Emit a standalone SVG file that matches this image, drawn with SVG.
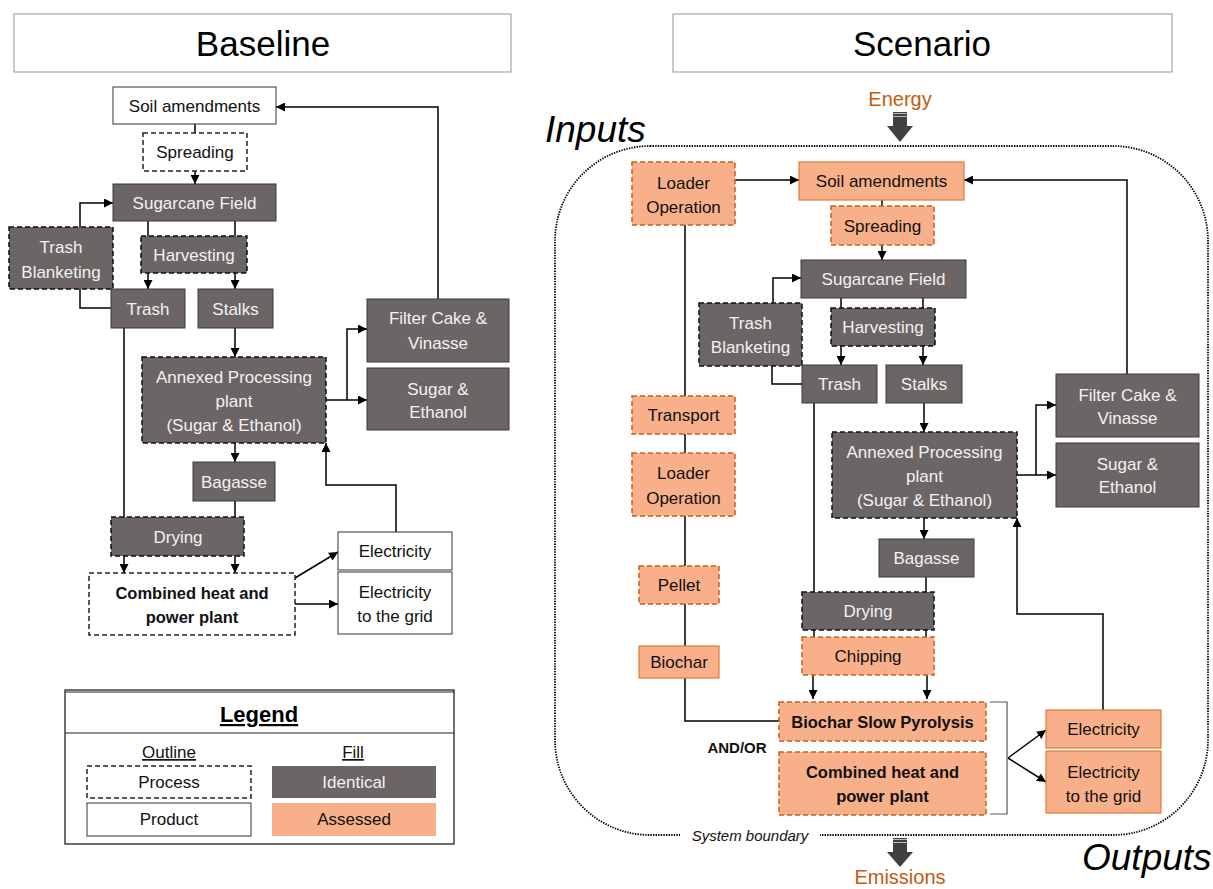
<svg xmlns="http://www.w3.org/2000/svg" width="1213" height="889" viewBox="0 0 1213 889">
<defs>
<marker id="ah" viewBox="0 0 10 10" refX="10" refY="5" markerWidth="9" markerHeight="9" markerUnits="userSpaceOnUse" orient="auto"><path d="M0,0 L10,5 L0,10 z" fill="#000"/></marker>
<style>
text{font-family:"Liberation Sans",Arial,sans-serif;font-size:17px;text-anchor:middle}
.g{fill:#6b6565;stroke:#3a3a3a;stroke-width:1}
.gd{fill:#6b6565;stroke:#111;stroke-width:1.5;stroke-dasharray:5 3}
.w{fill:#fff;stroke:#333;stroke-width:1}
.wd{fill:#fff;stroke:#222;stroke-width:1.5;stroke-dasharray:5 3}
.o{fill:#f8b08a;stroke:#e07b39;stroke-width:1.2}
.od{fill:#f8b08a;stroke:#c5601c;stroke-width:1.5;stroke-dasharray:5 3}
.tw{fill:#f2f2f2}
.tk{fill:#111}
.b{font-weight:bold;font-size:16.5px}
.c{fill:none;stroke:#000;stroke-width:1.5}
.ca{fill:none;stroke:#000;stroke-width:1.5;marker-end:url(#ah)}
.title{font-size:35px;fill:#000}
.big{font-size:37px;font-style:italic;text-anchor:start;fill:#000}
.or{fill:#c55a11;font-size:20px}
</style>
</defs>
<rect width="1213" height="889" fill="#fff"/>

<g id="titles">
<rect x="14" y="14" width="497" height="58" fill="#fff" stroke="#a6a6a6" stroke-width="1.2"/>
<text class="title" x="263" y="56">Baseline</text>
<rect x="673" y="14" width="499" height="58" fill="#fff" stroke="#a6a6a6" stroke-width="1.2"/>
<text class="title" x="922" y="56">Scenario</text>
</g>

<g id="boundary">
<rect x="555" y="146" width="653" height="689" rx="95" ry="95" fill="none" stroke="#000" stroke-width="1.8" stroke-dasharray="1.4 1.2"/>
<rect x="680" y="826" width="140" height="20" fill="#fff"/>
<text x="750" y="841" style="font-style:italic;font-size:15px;fill:#111">System boundary</text>
</g>

<g id="energy">
<text class="or" x="900" y="106">Energy</text>
<path d="M893,112 H907 V126 H913 L900,142 L887,126 H893 Z" fill="#404040"/>
<path d="M893,113.5 H907 M893,116.5 H907" stroke="#bbb" stroke-width="1"/>
</g>
<g id="emissions">
<path d="M893,838 H907 V852 H913 L900,867 L887,852 H893 Z" fill="#404040"/>
<path d="M893,839.5 H907 M893,842.5 H907" stroke="#bbb" stroke-width="1"/>
<text class="or" x="900" y="884">Emissions</text>
</g>
<text class="big" x="545" y="142">Inputs</text>
<text class="big" x="1082" y="870">Outputs</text>

<g id="connectors">
<path class="c" d="M195,124 V133"/>
<path class="ca" d="M195,171 V184"/>
<path class="ca" d="M148,221 V289"/>
<path class="ca" d="M235,221 V289"/>
<path class="c" d="M111,308 H80 V289"/>
<path class="ca" d="M80,227 V203 H113"/>
<path class="ca" d="M235,328 V357"/>
<path class="ca" d="M438,299 V107 H276"/>
<path class="ca" d="M326,400 H367"/>
<path class="ca" d="M347,400 V329 H367"/>
<path class="ca" d="M124,328 V573"/>
<path class="ca" d="M235,443 V462"/>
<path class="ca" d="M235,501 V573"/>
<path class="ca" d="M295,578 L338,552"/>
<path class="ca" d="M295,604 H338"/>
<path class="ca" d="M396,532 V485 H326 V443"/>

<path class="ca" d="M735,180 H799"/>
<path class="c" d="M882,200 V206"/>
<path class="ca" d="M882,245 V260"/>
<path class="ca" d="M841,298 V365"/>
<path class="ca" d="M923,298 V365"/>
<path class="c" d="M802,384 H772 V366"/>
<path class="ca" d="M773,303 V278 H801"/>
<path class="ca" d="M924,403 V432"/>
<path class="ca" d="M1127,374 V180 H964"/>
<path class="ca" d="M1017,475 H1056"/>
<path class="ca" d="M1036,475 V405 H1056"/>
<path class="ca" d="M924,518 V539"/>
<path class="c" d="M926,577 V592"/>
<path class="c" d="M814,403 V637"/>
<path class="c" d="M926,630 V637"/>
<path class="ca" d="M813,675 V699"/>
<path class="ca" d="M927,675 V699"/>
<path class="c" d="M685,225 V721 H779"/>
<path class="ca" d="M1008,758 L1046,730"/>
<path class="ca" d="M1008,758 L1046,782"/>
<path class="ca" d="M1103,710 V614 H1017 V518"/>
<path d="M990,702 H1007 V814 H990" fill="none" stroke="#555" stroke-width="1.2"/>
</g>

<g id="soilL"><rect class="w" x="113" y="87" width="163" height="37"/><text class="tk" x="194.5" y="111.5">Soil amendments</text></g>
<g id="spreadL"><rect class="wd" x="143" y="133" width="104" height="38"/><text class="tk" x="195" y="158">Spreading</text></g>
<g id="sugarL"><rect class="g" x="113" y="184" width="163" height="37"/><text class="tw" x="194.5" y="208.5">Sugarcane Field</text></g>
<g id="tbL"><rect class="gd" x="9" y="227" width="104" height="62"/><text class="tw" x="61" y="253">Trash</text><text class="tw" x="61" y="278">Blanketing</text></g>
<g id="harvL"><rect class="gd" x="141" y="236" width="106" height="37"/><text class="tw" x="194" y="260.5">Harvesting</text></g>
<g id="trashL"><rect class="g" x="111" y="289" width="74" height="39"/><text class="tw" x="148" y="314.5">Trash</text></g>
<g id="stalksL"><rect class="g" x="198" y="289" width="75" height="39"/><text class="tw" x="235.5" y="314.5">Stalks</text></g>
<g id="filterL"><rect class="g" x="367" y="299" width="142" height="63"/><text class="tw" x="438" y="324">Filter Cake &amp;</text><text class="tw" x="438" y="349">Vinasse</text></g>
<g id="sugEthL"><rect class="g" x="367" y="368" width="142" height="62"/><text class="tw" x="438" y="395">Sugar &amp;</text><text class="tw" x="438" y="418">Ethanol</text></g>
<g id="annexL"><rect class="gd" x="142" y="357" width="184" height="86"/><text class="tw" x="234" y="383">Annexed Processing</text><text class="tw" x="234" y="407">plant</text><text class="tw" x="234" y="431">(Sugar &amp; Ethanol)</text></g>
<g id="bagL"><rect class="g" x="193" y="462" width="82" height="39"/><text class="tw" x="234" y="487.5">Bagasse</text></g>
<g id="dryL"><rect class="gd" x="111" y="517" width="133" height="39"/><text class="tw" x="178" y="542.5">Drying</text></g>
<g id="chpL"><rect class="wd" x="89" y="573" width="206" height="62"/><text class="tk b" x="192" y="599">Combined heat and</text><text class="tk b" x="192" y="623">power plant</text></g>
<g id="elecL"><rect class="w" x="338" y="532" width="114" height="38"/><text class="tk" x="395" y="557">Electricity</text></g>
<g id="gridL"><rect class="w" x="338" y="572" width="114" height="62"/><text class="tk" x="395" y="598">Electricity</text><text class="tk" x="395" y="622">to the grid</text></g>

<g id="legend">
<rect x="65" y="690" width="389" height="154" fill="#fff" stroke="#222" stroke-width="1.3"/>
<line x1="65" y1="692" x2="454" y2="692" stroke="#222" stroke-width="1"/>
<line x1="65" y1="733" x2="454" y2="733" stroke="#222" stroke-width="1.2"/>
<text x="259" y="722" style="font-weight:bold;font-size:22px;text-decoration:underline;fill:#000">Legend</text>
<text class="tk" x="169" y="758" style="text-decoration:underline">Outline</text>
<text class="tk" x="353" y="758" style="text-decoration:underline">Fill</text>
<rect class="wd" x="87" y="766" width="164" height="32"/><text class="tk" x="169" y="788">Process</text>
<rect class="w" x="87" y="803" width="164" height="33"/><text class="tk" x="169" y="825">Product</text>
<rect x="272" y="766" width="164" height="32" fill="#6b6565"/><text class="tw" x="354" y="788">Identical</text>
<rect x="272" y="803" width="164" height="33" fill="#f8b08a"/><text class="tk" x="354" y="825">Assessed</text>
</g>

<g id="loader1"><rect class="od" x="632" y="162" width="103" height="63"/><text class="tk" x="683.5" y="189">Loader</text><text class="tk" x="683.5" y="213">Operation</text></g>
<g id="soilR"><rect class="o" x="799" y="162" width="165" height="38"/><text class="tk" x="881.5" y="187">Soil amendments</text></g>
<g id="spreadR"><rect class="od" x="831" y="206" width="103" height="39"/><text class="tk" x="882.5" y="231.5">Spreading</text></g>
<g id="sugarR"><rect class="g" x="801" y="260" width="165" height="38"/><text class="tw" x="883.5" y="285">Sugarcane Field</text></g>
<g id="tbR"><rect class="gd" x="699" y="303" width="103" height="63"/><text class="tw" x="750.5" y="329">Trash</text><text class="tw" x="750.5" y="353">Blanketing</text></g>
<g id="harvR"><rect class="gd" x="831" y="308" width="104" height="38"/><text class="tw" x="883" y="333">Harvesting</text></g>
<g id="trashR"><rect class="g" x="802" y="365" width="75" height="38"/><text class="tw" x="839.5" y="390">Trash</text></g>
<g id="stalksR"><rect class="g" x="886" y="365" width="76" height="38"/><text class="tw" x="924" y="390">Stalks</text></g>
<g id="filterR"><rect class="g" x="1056" y="374" width="143" height="63"/><text class="tw" x="1127.5" y="401">Filter Cake &amp;</text><text class="tw" x="1127.5" y="424">Vinasse</text></g>
<g id="sugEthR"><rect class="g" x="1056" y="443" width="143" height="64"/><text class="tw" x="1127.5" y="470">Sugar &amp;</text><text class="tw" x="1127.5" y="493">Ethanol</text></g>
<g id="annexR"><rect class="gd" x="832" y="432" width="185" height="86"/><text class="tw" x="924.5" y="458">Annexed Processing</text><text class="tw" x="924.5" y="482">plant</text><text class="tw" x="924.5" y="506">(Sugar &amp; Ethanol)</text></g>
<g id="bagR"><rect class="g" x="879" y="539" width="95" height="38"/><text class="tw" x="926.5" y="564">Bagasse</text></g>
<g id="dryR"><rect class="gd" x="802" y="592" width="132" height="38"/><text class="tw" x="868" y="617">Drying</text></g>
<g id="chipR"><rect class="od" x="802" y="637" width="132" height="38"/><text class="tk" x="868" y="662">Chipping</text></g>
<g id="transport"><rect class="od" x="632" y="396" width="103" height="38"/><text class="tk" x="683.5" y="421">Transport</text></g>
<g id="loader2"><rect class="od" x="632" y="453" width="103" height="63"/><text class="tk" x="683.5" y="479">Loader</text><text class="tk" x="683.5" y="504">Operation</text></g>
<g id="pellet"><rect class="od" x="639" y="566" width="80" height="38"/><text class="tk" x="679" y="591">Pellet</text></g>
<g id="biochar"><rect class="o" x="639" y="646" width="80" height="32"/><text class="tk" x="679" y="668">Biochar</text></g>
<g id="bsp"><rect class="od" x="779" y="702" width="207" height="39"/><text class="tk b" x="882.5" y="727.5">Biochar Slow Pyrolysis</text></g>
<text class="tk" x="737" y="753" style="font-weight:bold;font-size:15px">AND/OR</text>
<g id="chpR"><rect class="od" x="779" y="752" width="207" height="63"/><text class="tk b" x="882.5" y="778">Combined heat and</text><text class="tk b" x="882.5" y="802">power plant</text></g>
<g id="elecR"><rect class="o" x="1046" y="710" width="115" height="38"/><text class="tk" x="1103.5" y="735">Electricity</text></g>
<g id="gridR"><rect class="o" x="1046" y="751" width="115" height="62"/><text class="tk" x="1103.5" y="778">Electricity</text><text class="tk" x="1103.5" y="802">to the grid</text></g>
</svg>
